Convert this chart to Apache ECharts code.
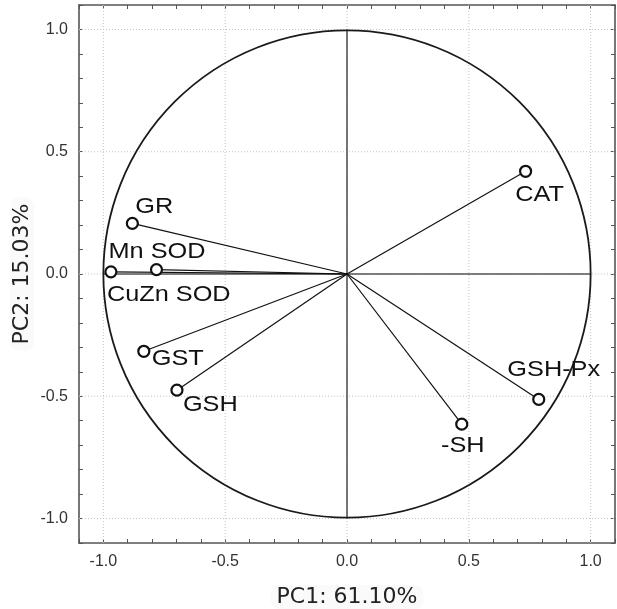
<!DOCTYPE html>
<html><head><meta charset="utf-8">
<script src="https://cdn.jsdelivr.net/npm/echarts@6/dist/echarts.min.js"></script>
<style>html,body{margin:0;padding:0;background:#fff}#c{width:617px;height:609px}</style>
</head><body><div id="c"></div>
<script>
// ---- data ----
const variables = ['CAT', 'GSH-Px', '-SH', 'GR', 'Mn SOD', 'CuZn SOD', 'GST', 'GSH'];
const pc1 = [0.733, 0.787, 0.471, -0.881, -0.782, -0.969, -0.834, -0.698];
const pc2 = [0.420, -0.513, -0.614, 0.207, 0.018, 0.009, -0.316, -0.475];
const gridValues = [-1.0, -0.5, 0.0, 0.5, 1.0];
const xTitle = 'PC1: 61.10%';
const yTitle = 'PC2: 15.03%';

// ---- label placement (pixels, relative to marker) ----
const labelLayout = {
  'CAT':      {dx: 14,  dy: 24,  align: 'center'},
  'GSH-Px':   {dx: 15,  dy: -30, align: 'center'},
  '-SH':      {dx: 1,   dy: 22,  align: 'center'},
  'GR':       {dx: 3,   dy: -16, align: 'left'},
  'Mn SOD':   {dx: -48, dy: -18, align: 'left'},
  'CuZn SOD': {dx: -4,  dy: 23,  align: 'left'},
  'GST':      {dx: 8,   dy: 8,   align: 'left'},
  'GSH':      {dx: 6,   dy: 15,  align: 'left'}
};

const chart = echarts.init(document.getElementById('c'), null, {renderer: 'canvas'});
const points = variables.map((n, i) => [pc1[i], pc2[i]]);

const tickFmt = v => {
  const r = Math.round(v * 10);
  if (r % 5 !== 0) return '';
  return (r / 10).toFixed(1);
};
const AX_MIN = -1.1, AX_MAX = 1.1;
function axisBase(showLabel) {
  return {
    type: 'value', min: AX_MIN, max: AX_MAX, interval: 0.1,
    axisLine: {show: true, onZero: false, lineStyle: {color: '#555', width: 1.6}},
    axisTick: {show: true, inside: true, length: 4, lineStyle: {color: '#555', width: 1}},
    splitLine: {show: false},
    axisLabel: {show: showLabel, formatter: tickFmt, color: '#333', fontSize: 16,
      fontFamily: '"Liberation Sans", Arial, sans-serif', margin: 11}
  };
}

const titleStyle = {color: '#222', fontSize: 22, fontFamily: '"DejaVu Sans", sans-serif',
  backgroundColor: '#fafafa', borderRadius: 8, padding: [1, 6]};

const option = {
  animation: false,
  backgroundColor: '#fff',
  grid: {left: 79, right: 2, top: 5, bottom: 66, containLabel: false, outerBoundsMode: 'none'},
  xAxis: [
    Object.assign(axisBase(true), {position: 'bottom', name: xTitle, nameLocation: 'middle',
      nameGap: 42, nameMoveOverlap: false, nameTextStyle: titleStyle}),
    Object.assign(axisBase(false), {position: 'top'})
  ],
  yAxis: [
    Object.assign(axisBase(true), {position: 'left', name: yTitle, nameLocation: 'middle',
      nameGap: 45, nameMoveOverlap: false, nameTextStyle: titleStyle}),
    Object.assign(axisBase(false), {position: 'right'})
  ],
  series: [
    { // grid lines, unit circle, crosshair
      type: 'custom', z: 1, silent: true, data: [[0, 0]],
      renderItem: (params, api) => {
        const children = [];
        const yt = api.coord([0, AX_MAX])[1], yb = api.coord([0, AX_MIN])[1];
        const xl = api.coord([AX_MIN, 0])[0], xr = api.coord([AX_MAX, 0])[0];
        gridValues.forEach(v => {
          const px = api.coord([v, 0])[0];
          const py = api.coord([0, v])[1];
          children.push({type: 'line', shape: {x1: px, y1: yt, x2: px, y2: yb},
            style: {stroke: '#c4c4c4', lineWidth: 1, lineDash: [1, 2]}});
          children.push({type: 'line', shape: {x1: xl, y1: py, x2: xr, y2: py},
            style: {stroke: '#c4c4c4', lineWidth: 1, lineDash: [1, 2]}});
        });
        const o = api.coord([0, 0]);
        const r = api.coord([1, 0])[0] - o[0];
        const a = api.coord([-1, 0]), b = api.coord([1, 0]);
        const c = api.coord([0, -1]), d = api.coord([0, 1]);
        children.push({type: 'line', shape: {x1: a[0], y1: a[1], x2: b[0], y2: b[1]},
          style: {stroke: '#555', lineWidth: 1.6}});
        children.push({type: 'line', shape: {x1: c[0], y1: c[1], x2: d[0], y2: d[1]},
          style: {stroke: '#555', lineWidth: 1.6}});
        children.push({type: 'circle', shape: {cx: o[0], cy: o[1], r: r},
          style: {fill: 'none', stroke: '#1a1a1a', lineWidth: 1.8}});
        return {type: 'group', children};
      }
    },
    { // spokes from origin
      type: 'custom', z: 2, silent: true, data: points,
      renderItem: (params, api) => {
        const o = api.coord([0, 0]);
        const p = api.coord([api.value(0), api.value(1)]);
        return {type: 'line', shape: {x1: o[0], y1: o[1], x2: p[0], y2: p[1]},
          style: {stroke: '#111', lineWidth: 1.2}};
      }
    },
    { // markers
      type: 'scatter', z: 3, data: points, symbol: 'circle', symbolSize: 11,
      itemStyle: {color: '#fff', borderColor: '#111', borderWidth: 2.2, opacity: 1}
    },
    { // labels
      type: 'custom', z: 4, silent: true, data: points,
      renderItem: (params, api) => {
        const i = params.dataIndex;
        const name = variables[i];
        const lay = labelLayout[name];
        const p = api.coord([api.value(0), api.value(1)]);
        return {type: 'text', x: p[0] + lay.dx, y: p[1] + lay.dy, scaleX: 1.15, scaleY: 1,
          style: {text: name, font: '22px "Liberation Sans", Arial, sans-serif', fill: '#111',
            align: lay.align, verticalAlign: 'middle',
            textAlign: lay.align, textVerticalAlign: 'middle'}};
      }
    }
  ]
};
chart.setOption(option);
</script>
</body></html>
